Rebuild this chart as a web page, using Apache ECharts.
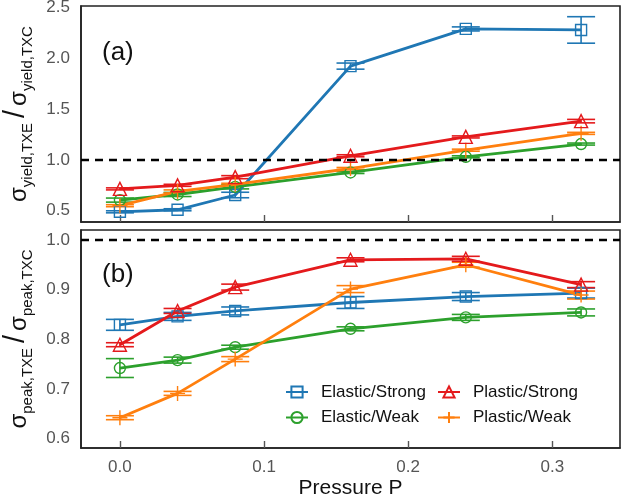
<!DOCTYPE html>
<html>
<head>
<meta charset="utf-8">
<script src="https://cdn.jsdelivr.net/npm/echarts@6/dist/echarts.min.js"></script>
<style>
  html, body { margin: 0; padding: 0; background: #fff; }
  #chart { width: 638px; height: 501px; }
</style>
</head>
<body>
<div id="chart"></div>
<script>
// Pressure values shared by both panels
const pressure = [0, 0.04, 0.08, 0.16, 0.24, 0.32];
const xTicks = [0, 0.1, 0.2, 0.3];

// Panel (a): yield stress ratio TXE/TXC and error half-widths
const yieldElasticStrong = [0.49, 0.51, 0.655, 1.92, 2.285, 2.275];
const yieldElasticStrongErr = [0.01, 0.01, 0.027, 0.03, 0.02, 0.13];
const yieldPlasticStrong = [0.715, 0.75, 0.83, 1.04, 1.225, 1.38];
const yieldPlasticStrongErr = [0.01, 0.01, 0.015, 0.01, 0.01, 0.017];
const yieldElasticWeak = [0.605, 0.66, 0.735, 0.876, 1.03, 1.155];
const yieldElasticWeakErr = [0.02, 0.02, 0.02, 0.01, 0.01, 0.01];
const yieldPlasticWeak = [0.55, 0.69, 0.76, 0.915, 1.095, 1.26];
const yieldPlasticWeakErr = [0.01, 0.015, 0.01, 0.01, 0.01, 0.01];
const yieldTicks = [0.5, 1.0, 1.5, 2.0, 2.5];

// Panel (b): peak stress ratio TXE/TXC and error half-widths
const peakElasticStrong = [0.829, 0.846, 0.857, 0.874, 0.886, 0.893];
const peakElasticStrongErr = [0.011, 0.008, 0.008, 0.012, 0.008, 0.01];
const peakPlasticStrong = [0.789, 0.857, 0.905, 0.96, 0.962, 0.91];
const peakPlasticStrongErr = [0.004, 0.005, 0.006, 0.004, 0.005, 0.006];
const peakElasticWeak = [0.742, 0.758, 0.784, 0.821, 0.844, 0.854];
const peakElasticWeakErr = [0.019, 0.006, 0.004, 0.004, 0.006, 0.007];
const peakPlasticWeak = [0.642, 0.691, 0.76, 0.901, 0.95, 0.889];
const peakPlasticWeakErr = [0.004, 0.004, 0.005, 0.007, 0.005, 0.008];
const peakTicks = [0.6, 0.7, 0.8, 0.9, 1.0];

const referenceRatio = 1.0;

const FONT = '"Liberation Sans", Arial, Helvetica, sans-serif';
const PLUS = 'path://M0,-10 L0,10 M-10,0 L10,0';

const styles = {
  'Elastic/Strong': { color: '#1f77b4', symbol: 'rect', size: 11 },
  'Plastic/Strong': { color: '#e41a1c', symbol: 'triangle', size: 13 },
  'Elastic/Weak':   { color: '#2ca02c', symbol: 'circle', size: 11 },
  'Plastic/Weak':   { color: '#ff7f0e', symbol: PLUS, size: 15 }
};

const panels = [
  {
    sets: [
      ['Elastic/Strong', yieldElasticStrong, yieldElasticStrongErr],
      ['Elastic/Weak', yieldElasticWeak, yieldElasticWeakErr],
      ['Plastic/Weak', yieldPlasticWeak, yieldPlasticWeakErr],
      ['Plastic/Strong', yieldPlasticStrong, yieldPlasticStrongErr]
    ]
  },
  {
    sets: [
      ['Elastic/Weak', peakElasticWeak, peakElasticWeakErr],
      ['Elastic/Strong', peakElasticStrong, peakElasticStrongErr],
      ['Plastic/Weak', peakPlasticWeak, peakPlasticWeakErr],
      ['Plastic/Strong', peakPlasticStrong, peakPlasticStrongErr]
    ]
  }
];

function errorBarRenderer(color) {
  return function (params, api) {
    const x = api.value(0), y = api.value(1), e = api.value(2);
    const hi = api.coord([x, y + e]);
    const lo = api.coord([x, y - e]);
    const cw = 14;
    const st = { stroke: color, lineWidth: 1.6, fill: null };
    return {
      type: 'group',
      children: [
        { type: 'line', shape: { x1: hi[0], y1: hi[1], x2: lo[0], y2: lo[1] }, style: st },
        { type: 'line', shape: { x1: hi[0] - cw, y1: hi[1], x2: hi[0] + cw, y2: hi[1] }, style: st },
        { type: 'line', shape: { x1: lo[0] - cw, y1: lo[1], x2: lo[0] + cw, y2: lo[1] }, style: st }
      ]
    };
  };
}

const series = [];
panels.forEach((panel, idx) => {
  panel.sets.forEach(([name, vals, errs]) => {
    const s = styles[name];
    series.push({
      name: name + ' err',
      type: 'custom',
      xAxisIndex: idx,
      yAxisIndex: idx,
      renderItem: errorBarRenderer(s.color),
      data: pressure.map((p, i) => [p, vals[i], errs[i]]),
      z: 3,
      silent: true
    });
    series.push({
      name: name,
      type: 'line',
      xAxisIndex: idx,
      yAxisIndex: idx,
      data: pressure.map((p, i) => [p, vals[i]]),
      symbol: s.symbol,
      symbolSize: s.size,
      showAllSymbol: true,
      lineStyle: { color: s.color, width: 2.8 },
      itemStyle: { color: 'rgba(0,0,0,0)', borderColor: s.color, borderWidth: 1.4 },
      emphasis: { disabled: true },
      z: 4
    });
  });
  // dashed reference line at ratio = 1
  series.push({
    name: 'ref' + idx,
    type: 'line',
    xAxisIndex: idx,
    yAxisIndex: idx,
    data: [],
    markLine: {
      silent: true,
      symbol: ['none', 'none'],
      label: { show: false },
      lineStyle: { color: '#000', type: [8, 6], width: 2.4 },
      data: [{ yAxis: referenceRatio }]
    },
    z: 5
  });
});

const grids = [
  { left: 81, right: 18, top: 6, height: 216 },
  { left: 81, right: 18, top: 230, height: 218 }
];

function xAxisDef(idx) {
  return {
    type: 'value',
    gridIndex: idx,
    min: -0.027,
    max: 0.347,
    axisLine: { show: true, onZero: false, lineStyle: { color: '#222', width: 1.6 } },
    splitLine: { show: false },
    axisTick: { show: true, inside: true, length: 7, customValues: xTicks, lineStyle: { color: '#555', width: 1.4 } },
    axisLabel: {
      show: idx === 1,
      customValues: xTicks,
      formatter: v => v.toFixed(1),
      color: '#555',
      fontFamily: FONT,
      fontSize: 17,
      margin: 11
    },
    name: idx === 1 ? 'Pressure P' : '',
    nameLocation: 'middle',
    nameGap: 30,
    nameTextStyle: { color: '#111', fontFamily: FONT, fontSize: 21 }
  };
}

function yAxisDef(idx, min, max, ticks, sub) {
  return {
    type: 'value',
    gridIndex: idx,
    min: min,
    max: max,
    axisLine: { show: true, onZero: false, lineStyle: { color: '#222', width: 1.6 } },
    splitLine: { show: false },
    axisTick: { show: false },
    axisLabel: {
      customValues: ticks,
      formatter: v => v.toFixed(1),
      color: '#555',
      fontFamily: FONT,
      fontSize: 17,
      margin: 11
    },
    name: '{s|σ}{b|' + sub + ',TXE}{sl|/}{s|σ}{b|' + sub + ',TXC}',
    nameLocation: 'middle',
    nameRotate: 90,
    nameGap: 41,
    nameTextStyle: {
      fontFamily: FONT,
      color: '#111',
      rich: {
        s: { fontSize: 24, fontFamily: FONT, color: '#111' },
        b: { fontSize: 15, fontFamily: FONT, color: '#111', padding: [18, 0, 0, 0] },
        sl: { fontSize: 29, fontFamily: FONT, color: '#111', padding: [0, 4, 6, 5] }
      }
    }
  };
}

function legendDef(names, left) {
  return {
    data: names,
    orient: 'vertical',
    left: left,
    top: 383,
    padding: 0,
    itemWidth: 22,
    itemHeight: 14,
    itemGap: 7.5,
    textStyle: { fontFamily: FONT, fontSize: 17, color: '#111', lineHeight: 18, padding: [0, 0, 0, 8] }
  };
}

const chart = echarts.init(document.getElementById('chart'), null, { renderer: 'canvas' });
chart.setOption({
  animation: false,
  backgroundColor: '#fff',
  grid: grids.map(g => Object.assign({
    show: true,
    borderColor: '#222',
    borderWidth: 1.6,
    backgroundColor: 'transparent',
    containLabel: false,
    outerBoundsMode: 'none'
  }, g)),
  xAxis: [xAxisDef(0), xAxisDef(1)],
  yAxis: [
    yAxisDef(0, 0.39, 2.51, yieldTicks, 'yield'),
    yAxisDef(1, 0.581, 1.02, peakTicks, 'peak')
  ],
  legend: [
    legendDef(['Elastic/Strong', 'Elastic/Weak'], 285),
    legendDef(['Plastic/Strong', 'Plastic/Weak'], 437)
  ],
  graphic: [
    { type: 'text', left: 102, top: 40, style: { text: '(a)', font: '26px ' + FONT, fill: '#111' } },
    { type: 'text', left: 102, top: 262, style: { text: '(b)', font: '26px ' + FONT, fill: '#111' } }
  ],
  series: series
});
</script>
</body>
</html>
